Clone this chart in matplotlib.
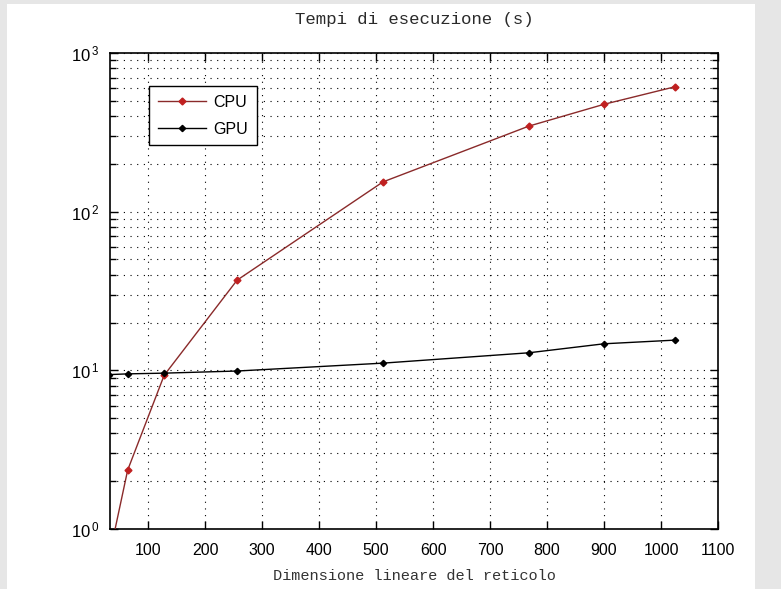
import math
import matplotlib
matplotlib.use("Agg")
import matplotlib.pyplot as plt
import matplotlib.patches as mpatches
from matplotlib.ticker import FixedLocator, LogLocator, FuncFormatter, NullFormatter

# Data
cpu_n = [32, 64, 128, 256, 512, 768, 900, 1024]
cpu_t = [0.68, 2.35, 9.3, 37, 154, 346, 475, 612]
gpu_n = [32, 64, 128, 256, 512, 768, 900, 1024]
gpu_t = [9.4, 9.5, 9.6, 9.9, 11.1, 12.9, 14.7, 15.5]
x_ticks = [100, 200, 300, 400, 500, 600, 700, 800, 900, 1000, 1100]
title = "Tempi di esecuzione (s)"
xlabel = "Dimensione lineare del reticolo"

plt.rcParams['mathtext.fontset'] = 'custom'
plt.rcParams['mathtext.rm'] = 'Liberation Sans'
plt.rcParams['mathtext.it'] = 'Liberation Sans'
plt.rcParams['font.family'] = ['Liberation Sans', 'DejaVu Sans']

fig = plt.figure(figsize=(7.81, 5.89), dpi=100, facecolor='#e6e6e6')
fig.patches.append(mpatches.Rectangle((7/781, 0), (755-7)/781, 1-4/589,
                                      transform=fig.transFigure, facecolor='white',
                                      edgecolor='none', zorder=-10))
ax = fig.add_axes([110/781, 1-529/589, 608/781, 476/589])
ax.set_zorder(5)
ax.set_facecolor('white')

ax.plot(cpu_n, cpu_t, '-', color='#8a2a2a', lw=1.0, marker='D', ms=3.5,
        mfc='#c02020', mec='#c02020', label='CPU', zorder=3)
ax.plot(gpu_n, gpu_t, '-', color='black', lw=1.0, marker='D', ms=3.2,
        mfc='black', mec='black', label='GPU', zorder=3)

ax.set_yscale('log')
ax.set_xlim(33, 1100)
ax.set_ylim(1, 1000)
ax.xaxis.set_major_locator(FixedLocator(x_ticks))
ax.yaxis.set_major_locator(LogLocator(base=10, numticks=10))
ax.yaxis.set_minor_locator(LogLocator(base=10, subs=range(2, 10), numticks=10))
ax.yaxis.set_minor_formatter(NullFormatter())
ax.yaxis.set_major_formatter(FuncFormatter(lambda v, p: r'$10^{\,%d}$' % round(math.log10(v))))

ax.grid(True, which='major', axis='x', linestyle=(0, (1, 5)), color='black', lw=0.8)
ax.grid(True, which='both', axis='y', linestyle=(0, (1, 5)), color='black', lw=0.8)

ax.tick_params(which='both', direction='in', top=True, right=True, labelsize=11.5)
ax.tick_params(which='major', length=6, width=1)
ax.tick_params(which='minor', length=4, width=1)
ax.tick_params(axis='x', pad=10)
ax.tick_params(axis='y', pad=8, labelsize=12)
for s in ax.spines.values():
    s.set_linewidth(1.2)

ax.set_title(title, family='Liberation Mono', fontsize=12.5, pad=21, color='#2a2a2a')
ax.set_xlabel(xlabel, family='Liberation Mono', fontsize=11, color='#333333', labelpad=8)

leg = ax.legend(loc='upper left', bbox_to_anchor=(0.064, 0.931), borderaxespad=0,
                fancybox=False, framealpha=1, edgecolor='black', fontsize=11.5,
                handlelength=3.0, handletextpad=0.5, borderpad=0.55, labelspacing=0.75)
leg.get_frame().set_linewidth(1.0)

fig.savefig('out.png', dpi=100, facecolor=fig.get_facecolor())
